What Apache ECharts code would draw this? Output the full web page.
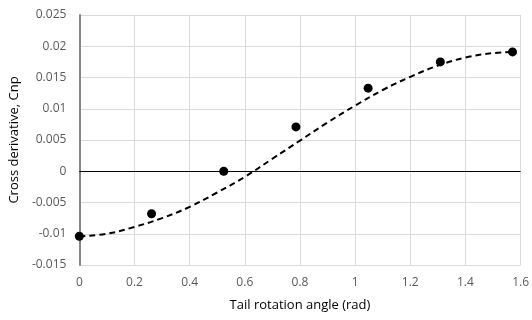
<!DOCTYPE html>
<html><head><meta charset="utf-8">
<script src="https://cdn.jsdelivr.net/npm/echarts@6/dist/echarts.min.js"></script>
<style>html,body{margin:0;padding:0;background:#fff}#c{width:532px;height:320px}</style>
</head><body><div id="c"></div>
<script>
// Measured data points (angle in rad, Cnp)
const pointX = [0, 0.2618, 0.5236, 0.7854, 1.0472, 1.3090, 1.5708];
const pointY = [-0.0104, -0.0068, 0.0000, 0.0071, 0.0133, 0.0175, 0.0191];
// Dashed trend curve
const curveX = [0, 0.1, 0.2, 0.3, 0.4, 0.5, 0.6, 0.7, 0.8, 0.9, 1.0, 1.1, 1.2, 1.3, 1.4, 1.5, 1.5708];
const curveY = [-0.0104, -0.0100, -0.0089, -0.0075, -0.0057, -0.0034, -0.0009, 0.0020, 0.0049, 0.0078, 0.0105, 0.0130, 0.0151, 0.0169, 0.0182, 0.0189, 0.0191];
const xTicks = [0, 0.2, 0.4, 0.6, 0.8, 1, 1.2, 1.4, 1.6];
const yTicks = [-0.015, -0.01, -0.005, 0, 0.005, 0.01, 0.015, 0.02, 0.025];

const font = 'Open Sans';
const chart = echarts.init(document.getElementById('c'), null, {renderer: 'canvas'});
chart.setOption({
  animation: false,
  grid: {left: 79, right: 9, top: 15, bottom: 55, containLabel: false},
  xAxis: {
    type: 'value', min: xTicks[0], max: xTicks[xTicks.length - 1], interval: 0.2,
    name: 'Tail rotation angle (rad)', nameLocation: 'middle', nameGap: 34,
    nameTextStyle: {fontFamily: font, fontSize: 13, color: '#000'},
    axisLine: {show: false}, axisTick: {show: false},
    axisLabel: {fontFamily: font, fontSize: 12, color: '#595959', margin: 12,
      formatter: v => String(parseFloat(v.toFixed(2)))},
    splitLine: {show: true, lineStyle: {color: '#d9d9d9', width: 1}}
  },
  yAxis: {
    type: 'value', min: yTicks[0], max: yTicks[yTicks.length - 1], interval: 0.005,
    name: 'Cross derivative, Cnp', nameLocation: 'middle', nameGap: 57,
    nameTextStyle: {fontFamily: font, fontSize: 13, color: '#000'},
    axisLine: {show: true, onZero: false, lineStyle: {color: '#868686', width: 2}},
    axisTick: {show: false},
    axisLabel: {fontFamily: font, fontSize: 12, color: '#595959', margin: 13,
      formatter: v => String(parseFloat(v.toFixed(3)))},
    splitLine: {show: true, lineStyle: {color: '#d9d9d9', width: 1}}
  },
  series: [
    {
      type: 'line', data: curveX.map((x, i) => [x, curveY[i]]), smooth: 0.4,
      showSymbol: false, symbol: 'none',
      lineStyle: {color: '#000', width: 2, type: [6, 4]},
      markLine: {silent: true, symbol: 'none', label: {show: false},
        lineStyle: {color: '#000', width: 1, type: 'solid'}, data: [{yAxis: 0}]},
      z: 2
    },
    {
      type: 'scatter', data: pointX.map((x, i) => [x, pointY[i]]),
      symbol: 'circle', symbolSize: 9, itemStyle: {color: '#000', opacity: 1}, z: 3
    }
  ]
});
</script></body></html>
